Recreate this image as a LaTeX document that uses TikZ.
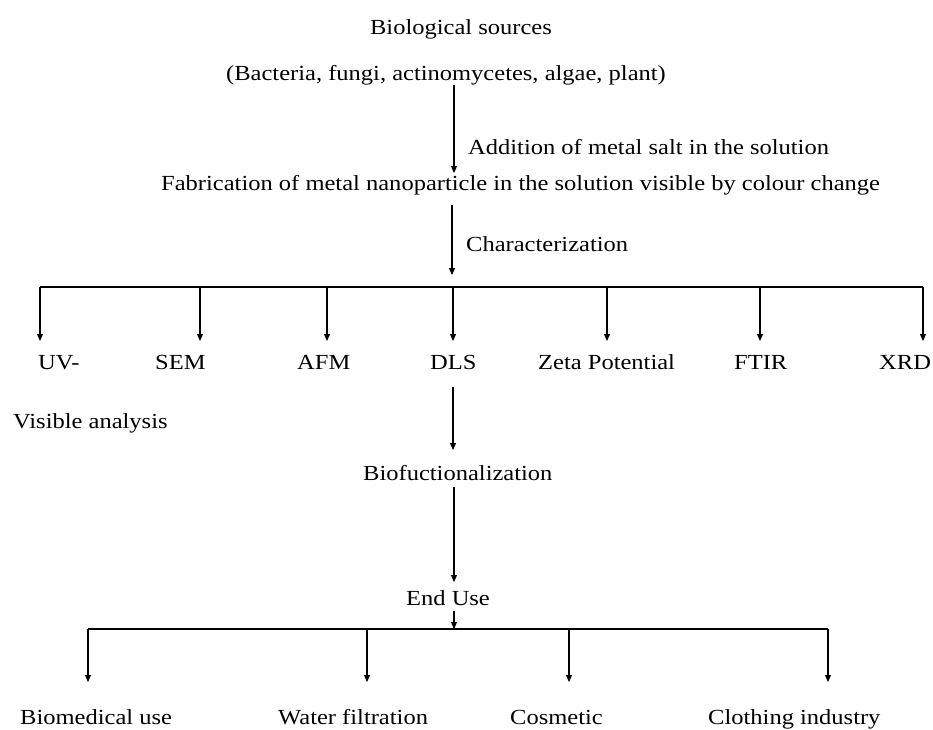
\documentclass[tikz,border=0pt]{standalone}
\usepackage{fontspec}
\setmainfont[FakeStretch=1.14]{Liberation Serif}
\usetikzlibrary{arrows.meta}
\begin{document}
\begin{tikzpicture}[x=1pt,y=-1pt,
  lbl/.style={inner sep=0pt, anchor=base west, font=\fontsize{21.5}{24}\selectfont},
  lblc/.style={lbl, anchor=base},
  arr/.style={line width=1.1pt, -{Triangle[length=7pt,width=6pt]}},
  ln/.style={line width=1.1pt}]
\useasboundingbox (0,0) rectangle (933,729);
% texts
\node[lblc] (bio)  at (461,34)  {Biological sources};
\node[lblc] (src)  at (446,80)  {(Bacteria, fungi, actinomycetes, algae, plant)};
\node[lbl]  (add)  at (468,154) {Addition of metal salt in the solution};
\node[lbl]  (fab)  at (161,190) {Fabrication of metal nanoparticle in the solution visible by colour change};
\node[lbl]  (char) at (466,251) {Characterization};
\node[lbl]  (uv)   at (38,369)  {UV-};
\node[lbl]  (sem)  at (155,369) {SEM};
\node[lbl]  (afm)  at (297,369) {AFM};
\node[lbl]  (dls)  at (430,369) {DLS};
\node[lbl]  (zeta) at (538,369) {Zeta Potential};
\node[lbl]  (ftir) at (734,369) {FTIR};
\node[lbl]  (xrd)  at (879,369) {XRD};
\node[lbl]  (vis)  at (13,428)  {Visible analysis};
\node[lbl]  (biof) at (363,480) {Biofuctionalization};
\node[lblc] (end)  at (448,605) {End Use};
\node[lbl]  (bmed) at (20,724)  {Biomedical use};
\node[lbl]  (wat)  at (278,724) {Water filtration};
\node[lbl]  (cos)  at (510,724) {Cosmetic};
\node[lbl]  (clo)  at (708,724) {Clothing industry};
% coordinates
\coordinate (t1) at (454,85);
\coordinate (t1e) at (454,173);
\coordinate (t2) at (452,205);
\coordinate (t2e) at (452,275);
\coordinate (r1) at (0,341);
\coordinate (r2) at (0,682);
\coordinate (b1) at (40,287);
\coordinate (b2) at (200,287);
\coordinate (b3) at (327,287);
\coordinate (b4) at (453,287);
\coordinate (b5) at (607,287);
\coordinate (b6) at (760,287);
\coordinate (b7) at (923,287);
\coordinate (c1) at (88,629);
\coordinate (c2) at (367,629);
\coordinate (c3) at (569,629);
\coordinate (c4) at (828,629);
\coordinate (cm) at (454,629);
\coordinate (d1) at (453,387);
\coordinate (d1e) at (453,450);
\coordinate (d2) at (454,487);
\coordinate (d2e) at (454,582);
\coordinate (d3) at (454,611);
% connectors
\draw[arr] (t1) -- (t1e);
\draw[arr] (t2) -- (t2e);
\draw[ln] (b1) -- (b7);
\foreach \b in {b1,b2,b3,b4,b5,b6,b7} \draw[arr] (\b) -- (\b |- r1);
\draw[arr] (d1) -- (d1e);
\draw[arr] (d2) -- (d2e);
\draw[arr] (d3) -- (cm);
\draw[ln] (c1) -- (c4);
\foreach \c in {c1,c2,c3,c4} \draw[arr] (\c) -- (\c |- r2);
\end{tikzpicture}
\end{document}
